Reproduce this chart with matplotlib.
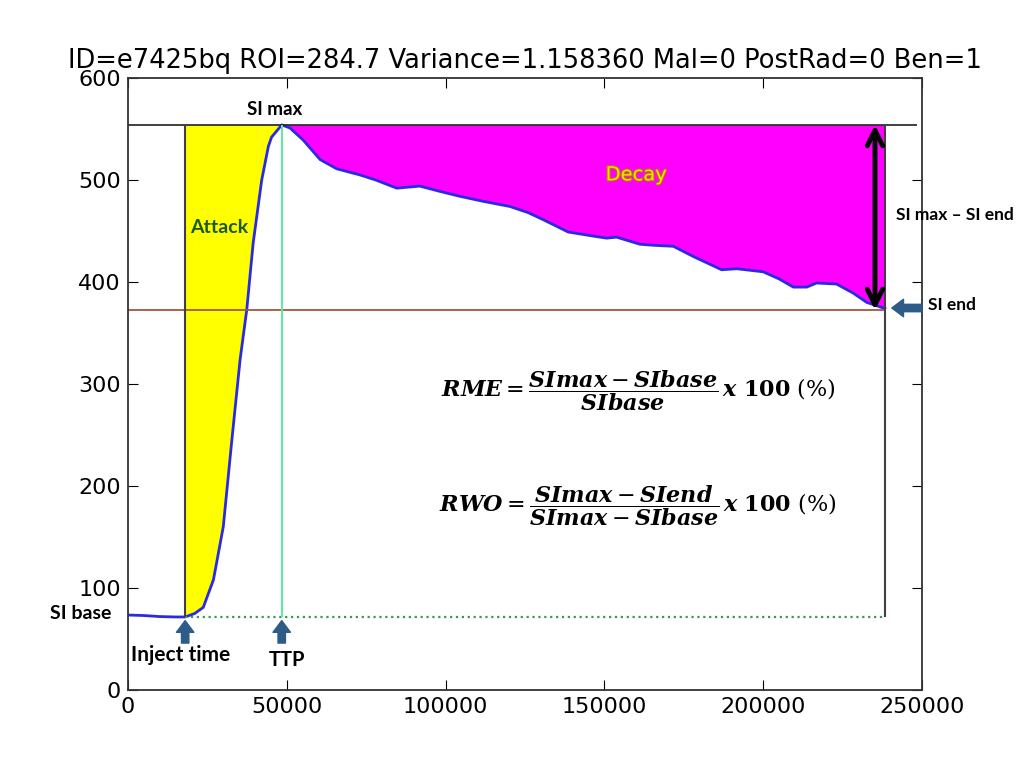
import matplotlib.pyplot as plt
import matplotlib.patheffects as pe
import numpy as np

# 시간(x)과 신호강도(SI) 곡선 값
t = [0, 5000, 10000, 15000, 18000, 21000, 23700, 26900, 30000, 32600,
     35300, 37400, 39400, 42100, 44200, 45200, 48400, 51000, 55200, 60500,
     65700, 73000, 78000, 84600, 91900, 98000, 104500, 112000, 120300, 126000,
     130800, 138600, 146500, 150700, 153800, 161200, 165400, 171700, 178000, 186900,
     191700, 200000, 205000, 209500, 213700, 216800, 223100, 228400, 232600, 238300]
si = [73.5, 73, 72, 71.6, 71.6, 75, 81, 108, 160, 242,
      324, 373, 438, 500, 533, 542, 554, 551, 539, 520,
      511, 505, 500, 492, 494, 489, 484, 479, 474, 468,
      461, 449, 445, 443, 444, 437, 436, 435, 425, 412,
      413, 410, 403, 395, 395, 399, 398, 389, 380, 374]

title = "ID=e7425bq ROI=284.7 Variance=1.158360 Mal=0 PostRad=0 Ben=1"
si_max = 554
si_base = 71.6
si_end = 372.5
inject_t = 18000
ttp_t = 48400
end_t = 238300
xticks = [0, 50000, 100000, 150000, 200000, 250000]
yticks = [0, 100, 200, 300, 400, 500, 600]

t = np.array(t)
si = np.array(si)

plt.rcParams['mathtext.fontset'] = 'dejavuserif'
fig = plt.figure(figsize=(10.24, 7.67), dpi=100)
ax = fig.add_axes([0.125, 0.1004, 0.7754, 0.7979])

# Attack(노랑), Decay(자홍) 영역
m1 = (t >= inject_t) & (t <= ttp_t)
ax.fill_between(t[m1], si[m1], si_max, color="#ffff00", lw=0)
m2 = t >= ttp_t
ax.fill_between(t[m2], si[m2], si_max, color="#ff00ff", lw=0)

ax.plot(t, si, color="#2a2ae6", lw=2)

# 기준선들
ax.hlines(si_max, 0, 248500, color="#202020", lw=1.2)
ax.hlines(si_end, 0, end_t, color="#a0583a", lw=1.3)
ax.hlines(si_base, inject_t, end_t, color="#3c9a50", lw=1.6, linestyles="dotted")
ax.vlines(inject_t, si_base, si_max, color="#404040", lw=1.5)
ax.vlines(ttp_t, si_base, si_max, color="#66e6a6", lw=1.5)
ax.vlines(end_t, si_base, si_max, color="#404040", lw=1.5)

# SI max - SI end 양방향 화살표
ax.annotate("", xy=(235200, si_max), xytext=(235200, si_end),
            arrowprops=dict(arrowstyle="<->", lw=3.5, color="black", mutation_scale=28,
                            shrinkA=0, shrinkB=0))

blue = "#2f5b88"
blk = dict(arrowstyle="simple,head_width=0.9,head_length=0.6,tail_width=0.38",
           color=blue, mutation_scale=14, shrinkA=0, shrinkB=0)
ax.annotate("", xy=(inject_t, 68), xytext=(inject_t, 46), arrowprops=blk, annotation_clip=False)
ax.annotate("", xy=(ttp_t, 68), xytext=(ttp_t, 46), arrowprops=blk, annotation_clip=False)
ax.annotate("", xy=(240500, 374.5), xytext=(250000, 374.5), arrowprops=blk, annotation_clip=False)

lab = dict(family="Lato", fontweight="bold", color="black", clip_on=False)
ax.text(46300, 569, "SI max", ha="center", va="center", fontsize=13.5, **lab)
ax.text(260200, 466, "SI max – SI end", ha="center", va="center", fontsize=12.5, **lab)
ax.text(251800, 377, "SI end", ha="left", va="center", fontsize=12.5, **lab)
ax.text(-14800, 75, "SI base", ha="center", va="center", fontsize=14, **lab)
ax.text(16700, 34, "Inject time", ha="center", va="center", fontsize=15, **lab)
ax.text(50000, 29, "TTP", ha="center", va="center", fontsize=14.5, **lab)

ax.text(19500, 453, "Attack", ha="left", va="center", fontsize=14,
        family="Lato", fontweight="bold", color="#1f5a14")
ax.text(160000, 505, "Decay", ha="center", va="center", fontsize=14, color="#ffdc00",
        path_effects=[pe.withStroke(linewidth=1.5, foreground="#b07a00")])

# 공식 (RME, RWO)
ax.text(160600, 294,
        r"$\mathbfit{RME} = \dfrac{\mathbfit{SImax} - \mathbfit{SIbase}}{\mathbfit{SIbase}}\,\mathbfit{x}\ \mathbf{100}\ (\%)$",
        ha="center", va="center", fontsize=16)
ax.text(160600, 181,
        r"$\mathbfit{RWO} = \dfrac{\mathbfit{SImax} - \mathbfit{SIend}}{\mathbfit{SImax} - \mathbfit{SIbase}}\,\mathbfit{x}\ \mathbf{100}\ (\%)$",
        ha="center", va="center", fontsize=16)

ax.set_xlim(0, 250000)
ax.set_ylim(0, 600)
ax.set_xticks(xticks)
ax.set_yticks(yticks)
ax.tick_params(direction="in", top=True, right=True, length=7, labelsize=16, pad=5)
for s in ax.spines.values():
    s.set_color("#333333")
    s.set_linewidth(1.3)
ax.set_title(title, fontsize=18.5, pad=7)

fig.savefig("out.png", dpi=100)
